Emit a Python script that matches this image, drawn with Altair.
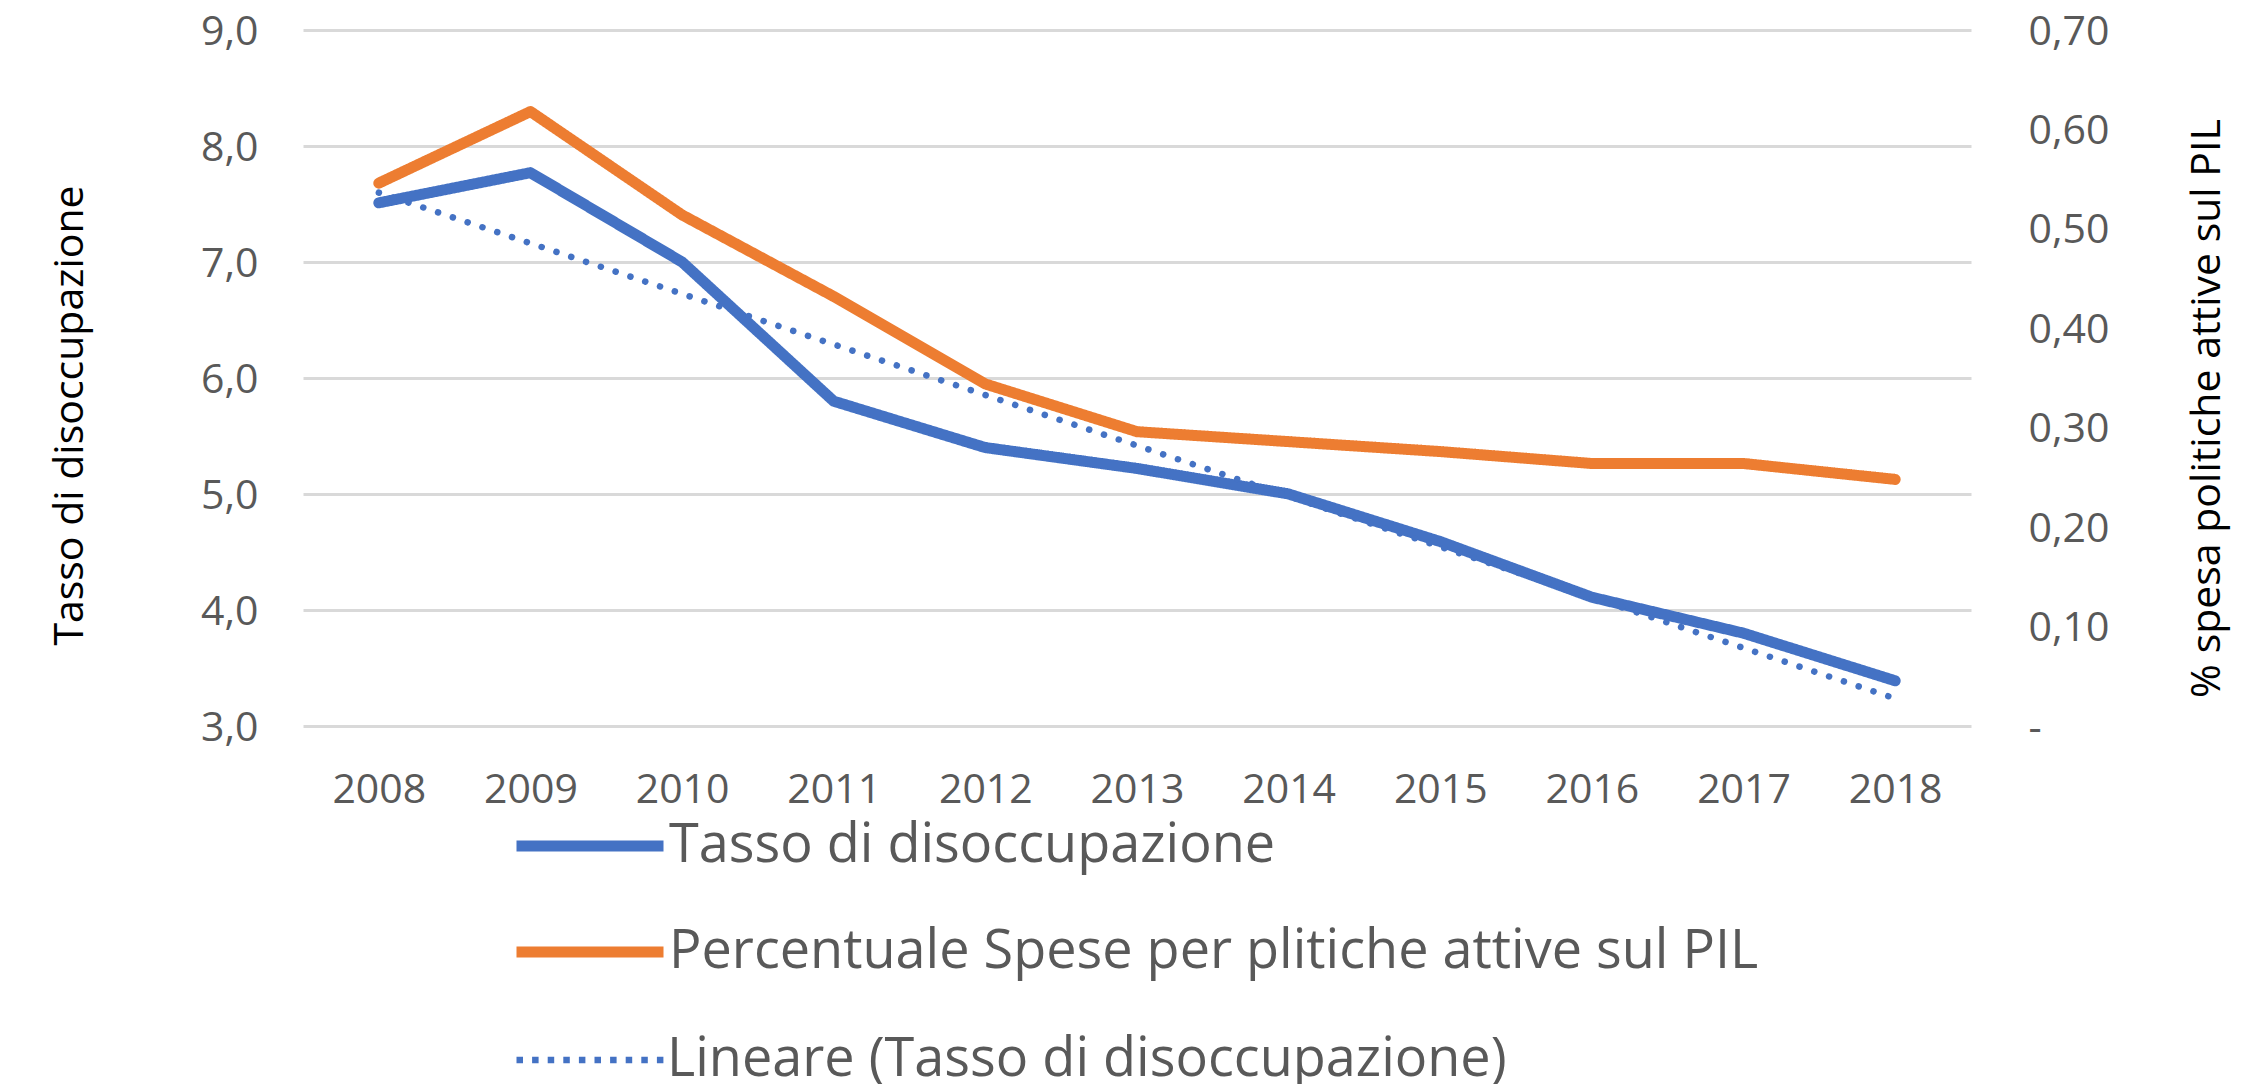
import altair as alt
import pandas as pd

# ---- data ----
anni = [2008, 2009, 2010, 2011, 2012, 2013, 2014, 2015, 2016, 2017, 2018]
tasso = [7.51, 7.77, 7.00, 5.80, 5.40, 5.22, 5.00, 4.59, 4.11, 3.80, 3.39]
spesa = [0.546, 0.618, 0.514, 0.432, 0.344, 0.296, 0.286, 0.276, 0.264, 0.264, 0.248]

serie_nomi = [
    "Tasso di disoccupazione",
    "Percentuale Spese per plitiche attive sul PIL",
    "Lineare (Tasso di disoccupazione)",
]
colori = ["#4472C4", "#ED7D31", "#4472C4"]

tick_sx = [3, 4, 5, 6, 7, 8, 9]
tick_dx = [0, 0.1, 0.2, 0.3, 0.4, 0.5, 0.6, 0.7]

df = pd.DataFrame({
    "anno": anni + anni,
    "serie": [serie_nomi[0]] * len(anni) + [serie_nomi[1]] * len(anni),
    "valore": tasso + spesa,
})

FONT = "Open Sans"
LABEL_COLOR = "#595959"
BLUE = "#4472C4"

legend_common = dict(
    title=None,
    orient="none",
    direction="vertical",
    symbolType="stroke",
    symbolSize=21609,
    labelFont=FONT,
    labelFontSize=54,
    labelColor=LABEL_COLOR,
    labelOffset=0,
    labelLimit=2000,
    rowPadding=-3,
    padding=0,
)

color_enc = alt.Color(
    "serie:N",
    scale=alt.Scale(domain=serie_nomi, range=colori),
    legend=alt.Legend(values=serie_nomi[:2], legendX=208, legendY=737,
                      symbolStrokeWidth=11, **legend_common),
)
# separate scale (different domain order) so that the dotted entry gets its own legend
dash_domain = [serie_nomi[2], serie_nomi[0], serie_nomi[1]]
dash_enc = alt.StrokeDash(
    "serie:N",
    scale=alt.Scale(domain=dash_domain, range=[[6.5, 9.1], [1, 0], [1, 0]]),
    legend=alt.Legend(values=[serie_nomi[2]], legendX=210, legendY=953,
                      symbolStrokeWidth=6.5, symbolStrokeColor=BLUE, **legend_common),
)

x_scale = alt.Scale(domain=[2007.5, 2018.5], nice=False, zero=False)
x_axis = alt.Axis(
    values=anni, format="d", grid=False, ticks=False, domain=False, title=None,
    labelFont=FONT, labelFontSize=41, labelColor=LABEL_COLOR, labelPadding=44,
)

left_scale = alt.Scale(domain=[3, 9], nice=False, zero=False)
right_scale = alt.Scale(domain=[0, 0.7], nice=False, zero=False)

left_axis = alt.Axis(
    orient="left", values=tick_sx, grid=True, gridColor="#D9D9D9", gridWidth=3,
    ticks=False, domain=False,
    labelExpr="replace(format(datum.value, '.1f'), '.', ',')",
    labelFont=FONT, labelFontSize=41, labelColor=LABEL_COLOR, labelPadding=45,
    labelOffset=2,
    title="Tasso di disoccupazione", titleFont=FONT, titleFontSize=41,
    titleFontWeight="normal", titleColor="#000000", titleAngle=270,
    titleAlign="center", titleBaseline="alphabetic", titleX=-221, titleY=385,
)

right_axis = alt.Axis(
    orient="right", values=tick_dx, grid=False, ticks=False, domain=False,
    labelExpr="datum.value == 0 ? '-' : replace(format(datum.value, '.2f'), '.', ',')",
    labelFont=FONT, labelFontSize=41, labelColor=LABEL_COLOR, labelPadding=57,
    labelOffset=2,
    title="% spesa politiche attive sul PIL", titleFont=FONT, titleFontSize=41,
    titleFontWeight="normal", titleColor="#000000", titleAngle=270,
    titleAlign="center", titleBaseline="alphabetic", titleX=248, titleY=378,
)

base = alt.Chart(df)

blue = base.transform_filter(
    alt.datum.serie == serie_nomi[0]
).mark_line(strokeWidth=11, strokeCap="round", strokeJoin="round").encode(
    x=alt.X("anno:Q", scale=x_scale, axis=x_axis),
    y=alt.Y("valore:Q", scale=left_scale, axis=left_axis),
    color=color_enc,
    strokeDash=dash_enc,
)

# linear trend computed by Vega-Lite's regression transform, drawn as round dots
trend = base.transform_filter(
    alt.datum.serie == serie_nomi[0]
).transform_regression(
    "anno", "valore", method="linear"
).transform_calculate(
    serie="'" + serie_nomi[2] + "'"
).mark_line(strokeWidth=6.5, strokeCap="round", strokeDash=[0.1, 15.5]).encode(
    x=alt.X("anno:Q", scale=x_scale, axis=x_axis),
    y=alt.Y("valore:Q", scale=left_scale, axis=left_axis),
    color=color_enc,
)

orange = base.transform_filter(
    alt.datum.serie == serie_nomi[1]
).mark_line(strokeWidth=11, strokeCap="round", strokeJoin="round").encode(
    x=alt.X("anno:Q", scale=x_scale, axis=x_axis),
    y=alt.Y("valore:Q", scale=right_scale, axis=right_axis),
    color=color_enc,
    strokeDash=dash_enc,
)

chart = alt.layer(
    alt.layer(blue, trend), orange
).resolve_scale(
    y="independent"
).properties(
    width=1668,
    height=696,
    padding={"left": 295, "top": 22, "right": 270, "bottom": 358},
    autosize=alt.AutoSizeParams(type="none"),
    background="white",
).configure_view(stroke=None)

chart.save("out.html", embed_options={"renderer": "svg", "actions": False})
